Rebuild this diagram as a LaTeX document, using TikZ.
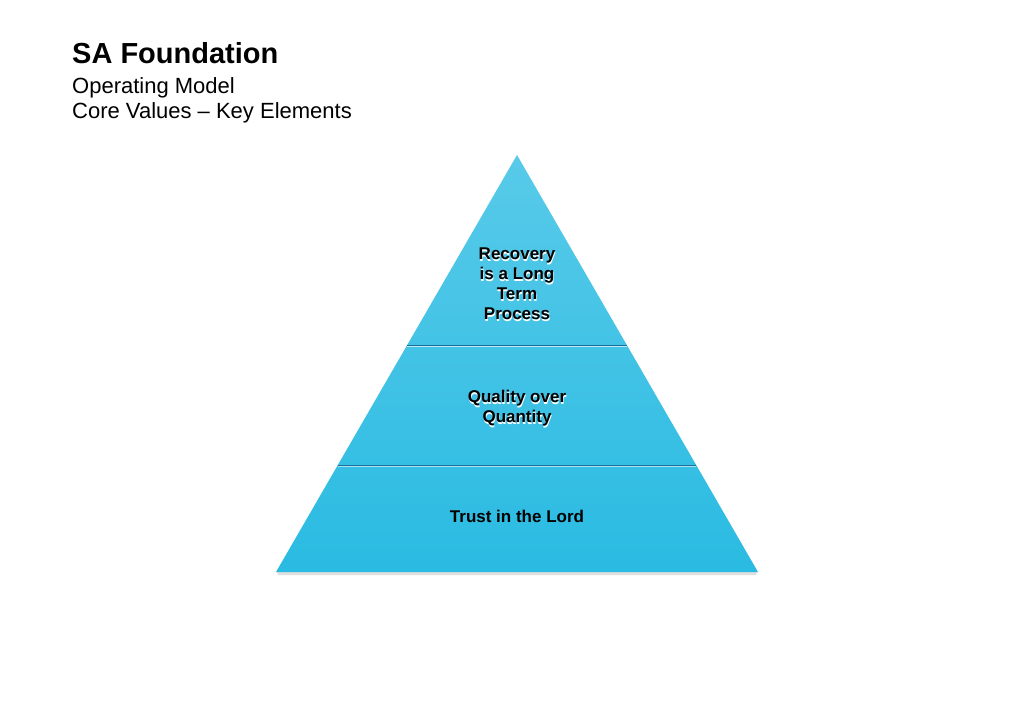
\documentclass[tikz,border=0pt]{standalone}
\usepackage{fontspec}
\setmainfont{Liberation Sans}
\definecolor{ptop}{HTML}{58CAE9}
\definecolor{pbot}{HTML}{2ABBE2}
\definecolor{tierline}{HTML}{1A6E98}
\tikzset{
  tiertext/.style={font=\bfseries\fontsize{17}{20}\selectfont, align=center, text=black, inner sep=0pt},
  tiershadow/.style={font=\bfseries\fontsize{17}{20}\selectfont, align=center, text=white, inner sep=0pt},
  sep/.style={draw=tierline, line width=1pt},
  head/.style={anchor=base west, inner sep=0pt},
}
\begin{document}
\begin{tikzpicture}[x=1pt,y=-1pt]
\useasboundingbox (0,0) rectangle (1024,723);
\fill[white] (0,0) rectangle (1024,723);
% titles
\node[head, font=\bfseries\fontsize{29}{30}\selectfont] (title) at (72,63) {SA Foundation};
\node[head, font=\fontsize{22}{25}\selectfont] (sub1) at (72,93) {Operating Model};
\node[head, font=\fontsize{22}{25}\selectfont] (sub2) at (72,118) {Core Values – Key Elements};
% pyramid
\coordinate (apex) at (517,155);
\coordinate (bl) at (276,572);
\coordinate (br) at (758,572);
\fill[gray!25] (277,572) -- (757,572) -- (756,575) -- (278,575) -- cycle;
\shade[top color=ptop, bottom color=pbot] (apex) -- (br) -- (bl) -- cycle;
\coordinate (l1) at (407,345);
\coordinate (r1) at (627,345);
\coordinate (l2) at (338,465);
\coordinate (r2) at (696,465);
\draw[sep] (l1) -- (r1);
\draw[white!60!ptop, line width=1pt] ([yshift=-1.5pt]l1) -- ([yshift=-1.5pt]r1);
\draw[sep] (l2) -- (r2);
\draw[white!60!pbot, line width=1pt] ([yshift=-1.5pt]l2) -- ([yshift=-1.5pt]r2);
% texts
\node[tiershadow] at (517.5,286) {Recovery\\is a Long\\Term\\Process};
\node[tiertext] (t1) at (517,284) {Recovery\\is a Long\\Term\\Process};
\node[tiershadow] at (517.5,410) {Quality over\\Quantity};
\node[tiertext] (t2) at (517,408) {Quality over\\Quantity};
\node[tiertext] (t3) at (517,516) {Trust in the Lord};
\end{tikzpicture}
\end{document}
